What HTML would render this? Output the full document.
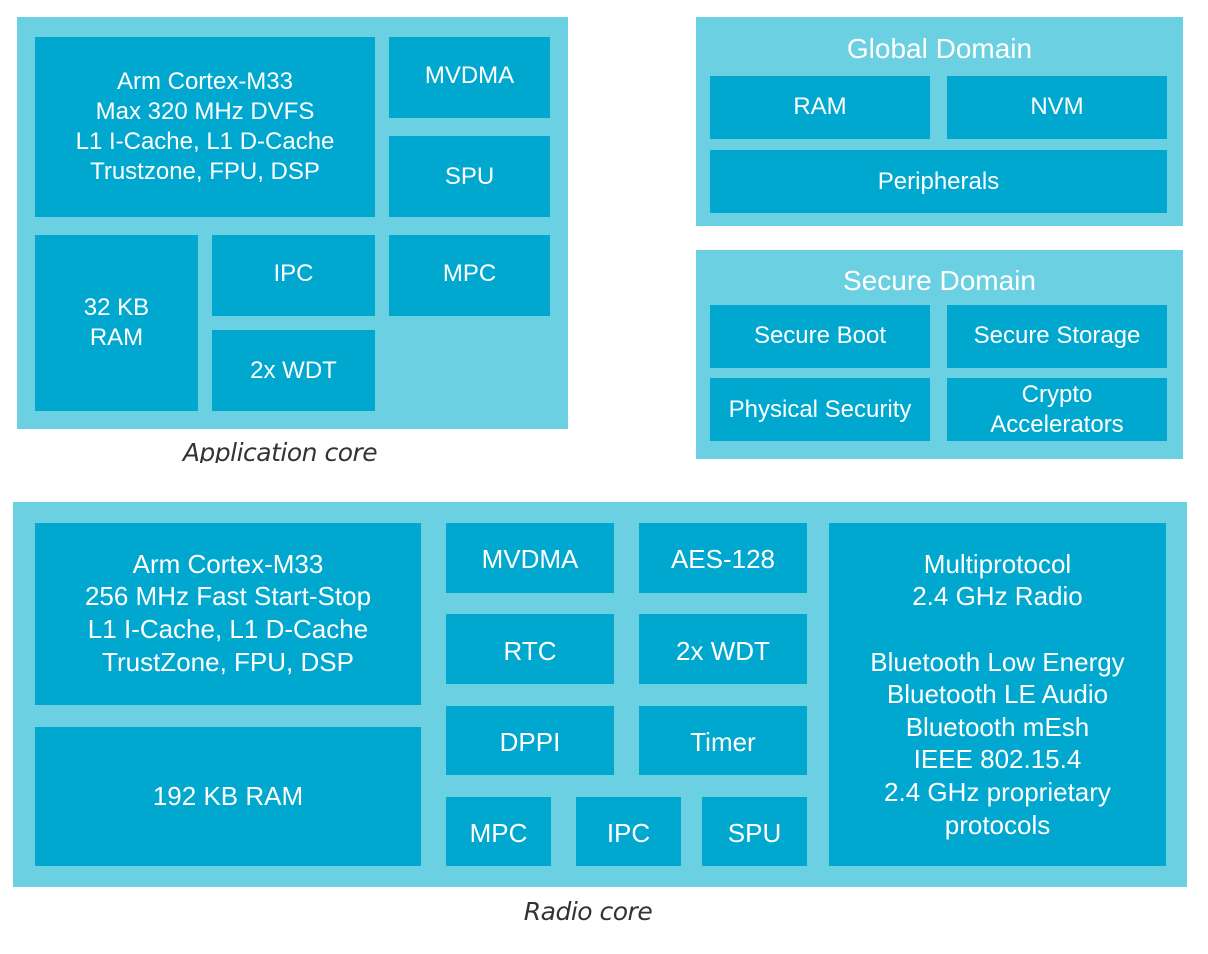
<!DOCTYPE html>
<html><head><meta charset="utf-8"><style>
body{margin:0;width:1208px;height:954px;background:#fff;position:relative;overflow:hidden;font-family:"Liberation Sans",Arial,sans-serif}
.o{position:absolute;background:#6ad0e2}
.b{position:absolute;background:#00a8cf;color:#fff;display:flex;align-items:center;justify-content:center;text-align:center;font-size:24px;line-height:30px}
.t{position:absolute;color:#fff;font-size:28px;text-align:center}
.r{font-size:26px;line-height:32.6px}
.cap{position:absolute;font-style:italic;color:#333;font-size:25px;text-align:center;font-family:"DejaVu Sans","Liberation Sans",sans-serif;letter-spacing:-0.5px}
</style></head><body>
<div class="o" style="left:17px;top:17px;width:551px;height:412px"></div>
<div class="b" style="left:35px;top:37px;width:340px;height:180px;padding-bottom:0px;box-sizing:border-box">Arm Cortex-M33<br>Max 320 MHz DVFS<br>L1 I-Cache, L1 D-Cache<br>Trustzone, FPU, DSP</div>
<div class="b" style="left:389px;top:37px;width:161px;height:81px;padding-bottom:4px;box-sizing:border-box">MVDMA</div>
<div class="b" style="left:389px;top:136px;width:161px;height:81px">SPU</div>
<div class="b" style="left:35px;top:235px;width:163px;height:176px;padding-bottom:0px;box-sizing:border-box">32 KB<br>RAM</div>
<div class="b" style="left:212px;top:235px;width:163px;height:81px;padding-bottom:4px;box-sizing:border-box">IPC</div>
<div class="b" style="left:389px;top:235px;width:161px;height:81px;padding-bottom:4px;box-sizing:border-box">MPC</div>
<div class="b" style="left:212px;top:330px;width:163px;height:81px">2x WDT</div>
<div class="cap" style="left:130px;top:438px;width:300px;height:25px;overflow:hidden">Application core</div>

<div class="o" style="left:696px;top:17px;width:487px;height:209px"></div>
<div class="t" style="left:696px;top:33px;width:487px">Global Domain</div>
<div class="b" style="left:710px;top:76px;width:220px;height:63px;padding-bottom:2px;box-sizing:border-box">RAM</div>
<div class="b" style="left:947px;top:76px;width:220px;height:63px;padding-bottom:2px;box-sizing:border-box">NVM</div>
<div class="b" style="left:710px;top:150px;width:457px;height:63px">Peripherals</div>

<div class="o" style="left:696px;top:250px;width:487px;height:209px"></div>
<div class="t" style="left:696px;top:265px;width:487px">Secure Domain</div>
<div class="b" style="left:710px;top:305px;width:220px;height:63px;padding-bottom:2px;box-sizing:border-box">Secure Boot</div>
<div class="b" style="left:947px;top:305px;width:220px;height:63px;padding-bottom:2px;box-sizing:border-box">Secure Storage</div>
<div class="b" style="left:710px;top:378px;width:220px;height:63px">Physical Security</div>
<div class="b" style="left:947px;top:378px;width:220px;height:63px">Crypto<br>Accelerators</div>

<div class="o" style="left:13px;top:502px;width:1174px;height:385px"></div>
<div class="b r" style="left:35px;top:523px;width:386px;height:182px;padding-bottom:2px;box-sizing:border-box">Arm Cortex-M33<br>256 MHz Fast Start-Stop<br>L1 I-Cache, L1 D-Cache<br>TrustZone, FPU, DSP</div>
<div class="b r" style="left:35px;top:727px;width:386px;height:139px;padding-bottom:0px;box-sizing:border-box">192 KB RAM</div>
<div class="b r" style="left:446px;top:523px;width:168px;height:70px;padding-top:2px;box-sizing:border-box">MVDMA</div>
<div class="b r" style="left:639px;top:523px;width:168px;height:70px;padding-top:2px;box-sizing:border-box">AES-128</div>
<div class="b r" style="left:446px;top:614px;width:168px;height:70px;padding-top:4px;box-sizing:border-box">RTC</div>
<div class="b r" style="left:639px;top:614px;width:168px;height:70px;padding-top:4px;box-sizing:border-box">2x WDT</div>
<div class="b r" style="left:446px;top:706px;width:168px;height:69px;padding-top:4px;box-sizing:border-box">DPPI</div>
<div class="b r" style="left:639px;top:706px;width:168px;height:69px;padding-top:4px;box-sizing:border-box">Timer</div>
<div class="b r" style="left:446px;top:797px;width:105px;height:69px;padding-top:3px;box-sizing:border-box">MPC</div>
<div class="b r" style="left:576px;top:797px;width:105px;height:69px;padding-top:3px;box-sizing:border-box">IPC</div>
<div class="b r" style="left:702px;top:797px;width:105px;height:69px;padding-top:3px;box-sizing:border-box">SPU</div>
<div class="b r" style="left:829px;top:523px;width:337px;height:343px;padding-top:0px;box-sizing:border-box">Multiprotocol<br>2.4 GHz Radio<br><br>Bluetooth Low Energy<br>Bluetooth LE Audio<br>Bluetooth mEsh<br>IEEE 802.15.4<br>2.4 GHz proprietary<br>protocols</div>
<div class="cap" style="left:438px;top:897px;width:300px">Radio core</div>
</body></html>
